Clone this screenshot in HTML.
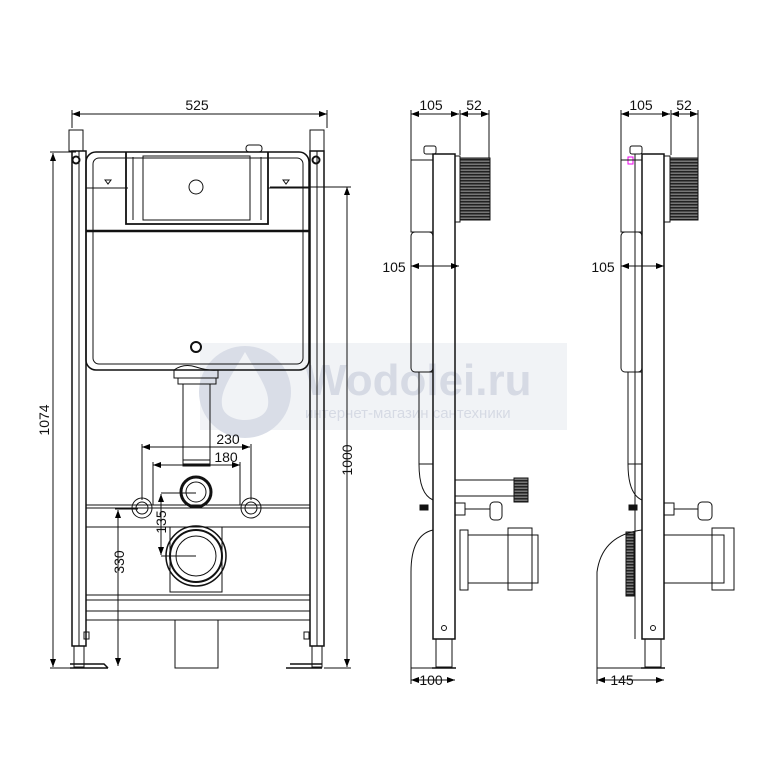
<!DOCTYPE html><html><head><style>body{margin:0;background:#fff}svg{display:block}text{font-family:"Liberation Sans",sans-serif;fill:#111}</style></head><body>
<svg width="766" height="774" viewBox="0 0 766 774" xmlns="http://www.w3.org/2000/svg">
<defs><marker id="a" markerWidth="8" markerHeight="6" refX="8" refY="3" orient="auto-start-reverse"><path d="M0,0L8,3L0,6z" fill="#000"/></marker>
<pattern id="rib" width="3" height="3" patternUnits="userSpaceOnUse"><rect width="3" height="3" fill="#777"/><rect width="3" height="1.5" fill="#222"/></pattern></defs>
<rect width="766" height="774" fill="#fff"/>
<rect x="200" y="343" width="367" height="87" fill="#f1f3f6"/>
<circle cx="245" cy="392" r="46" fill="#d9dde7"/>
<path d="M245,352 C232,375 220,390 222,405 C224,425 266,425 268,405 C270,390 258,375 245,352z" fill="#f1f3f6"/>
<text x="305" y="395" font-size="44" font-weight="bold" style="fill:#d6dae4">Wodolei.ru</text>
<text x="305" y="418" font-size="15" style="fill:#d6dae4">интернет-магазин сантехники</text>
<g fill="none" stroke="#111" stroke-width="1">
<line x1="72" y1="114" x2="327" y2="114" marker-start="url(#a)" marker-end="url(#a)"/>
<line x1="72" y1="110" x2="72" y2="128"/><line x1="327" y1="110" x2="327" y2="128"/>
<rect x="69" y="130" width="14" height="21"/><rect x="310" y="130" width="14" height="21"/>
<rect x="72" y="151" width="14" height="495" stroke-width="1.5"/><line x1="79" y1="151" x2="79" y2="646"/>
<rect x="310" y="151" width="14" height="495" stroke-width="1.5"/><line x1="317" y1="151" x2="317" y2="646"/>
<circle cx="76" cy="160" r="3.5" stroke-width="2"/><circle cx="316" cy="160" r="3.5" stroke-width="2"/>
<rect x="74" y="646" width="10" height="21"/><rect x="312" y="646" width="10" height="21"/>
<path d="M70,668H108M70,664H104L108,668M286,668H322M290,664H322" stroke-width="1.5"/>
<rect x="84" y="632" width="5" height="7"/><rect x="304" y="632" width="5" height="7"/>
<rect x="86" y="152" width="223" height="218" rx="10" stroke-width="1.5"/>
<rect x="93" y="158" width="210" height="206" rx="6"/>
<line x1="86" y1="231" x2="309" y2="231" stroke-width="2.5"/>
<line x1="86" y1="188" x2="128" y2="188"/><line x1="268" y1="188" x2="309" y2="188"/>
<path d="M126,152V224H268V152" stroke-width="1.8"/>
<rect x="143" y="156" width="107" height="64"/>
<line x1="133" y1="157" x2="133" y2="220"/><line x1="261" y1="157" x2="261" y2="220"/>
<circle cx="196" cy="187" r="7"/>
<rect x="246" y="145" width="16" height="7" rx="3"/>
<path d="M105,180l3,4l3,-4z M283,180l3,4l3,-4z"/>
<circle cx="196" cy="347" r="5" stroke-width="2"/>
<path d="M174,370 q10,-7 22,-3 q12,4 22,3 v8 h-44z"/>
<rect x="178" y="378" width="38" height="6"/>
<rect x="183" y="384" width="27" height="80"/><rect x="183" y="460" width="27" height="6"/>
<circle cx="196" cy="492" r="15" stroke-width="3"/><circle cx="196" cy="492" r="10"/>
<line x1="86" y1="505" x2="310" y2="505"/><line x1="86" y1="508" x2="310" y2="508"/><line x1="86" y1="527" x2="310" y2="527"/>
<circle cx="142" cy="508" r="10"/><circle cx="142" cy="508" r="6"/><circle cx="251" cy="508" r="10"/><circle cx="251" cy="508" r="6"/>
<rect x="170" y="527" width="52" height="65"/>
<circle cx="196" cy="556" r="30" stroke-width="1.5"/><circle cx="196" cy="556" r="26" stroke-width="2"/><circle cx="196" cy="556" r="20"/>
<line x1="86" y1="595" x2="310" y2="595"/><line x1="86" y1="600" x2="310" y2="600"/><line x1="86" y1="611" x2="310" y2="611"/><line x1="86" y1="620" x2="310" y2="620"/>
<rect x="175" y="620" width="43" height="48"/>
<line x1="53" y1="153" x2="53" y2="667" marker-start="url(#a)" marker-end="url(#a)"/><line x1="50" y1="152" x2="76" y2="152"/><line x1="50" y1="668" x2="72" y2="668"/>
<line x1="347" y1="187" x2="347" y2="667" marker-start="url(#a)" marker-end="url(#a)"/><line x1="270" y1="187" x2="351" y2="187"/><line x1="324" y1="668" x2="351" y2="668"/>
<line x1="142" y1="447" x2="250" y2="447" marker-start="url(#a)" marker-end="url(#a)"/><line x1="142" y1="444" x2="142" y2="500"/><line x1="251" y1="444" x2="251" y2="500"/>
<line x1="153" y1="465" x2="240" y2="465" marker-start="url(#a)" marker-end="url(#a)"/><line x1="153" y1="462" x2="153" y2="505"/><line x1="240" y1="462" x2="240" y2="505"/>
<line x1="161" y1="494" x2="161" y2="555" marker-start="url(#a)" marker-end="url(#a)"/><line x1="161" y1="493" x2="196" y2="493"/><line x1="161" y1="556" x2="196" y2="556"/>
<line x1="118" y1="510" x2="118" y2="666" marker-start="url(#a)" marker-end="url(#a)"/><line x1="115" y1="509" x2="138" y2="509"/>
</g>
<g font-size="14" text-anchor="middle">
<text x="197" y="110">525</text><text x="228" y="444">230</text><text x="226" y="462">180</text>
<text transform="translate(49,420) rotate(-90)">1074</text>
<text transform="translate(352,460) rotate(-90)">1000</text>
<text transform="translate(166,522) rotate(-90)">135</text>
<text transform="translate(124,562) rotate(-90)">330</text>
</g>
<g fill="none" stroke="#111" stroke-width="1">
<line x1="411" y1="114" x2="459" y2="114" marker-start="url(#a)" marker-end="url(#a)"/><line x1="460" y1="114" x2="489" y2="114" marker-start="url(#a)" marker-end="url(#a)"/>
<line x1="411" y1="110" x2="411" y2="160"/><line x1="460" y1="110" x2="460" y2="155"/><line x1="489" y1="110" x2="489" y2="158"/>
<rect x="433" y="154" width="22" height="485" stroke-width="1.5"/>
<rect x="436" y="639" width="16" height="28"/><line x1="432" y1="668" x2="456" y2="668" stroke-width="1.5"/>
<rect x="460" y="158" width="30" height="62" fill="url(#rib)"/><rect x="455" y="156" width="5" height="66"/>
<rect x="424" y="146" width="12" height="8" rx="2"/>
<rect x="411" y="160" width="22" height="72"/><rect x="411" y="232" width="22" height="140" rx="4"/>
<line x1="411" y1="266" x2="459" y2="266" marker-start="url(#a)" marker-end="url(#a)"/>
<rect x="419" y="372" width="14" height="92"/><path d="M419,464 q0,30 14,36"/>
<line x1="455" y1="480" x2="515" y2="480"/><line x1="455" y1="496" x2="520" y2="496"/><rect x="514" y="478" width="14" height="24" fill="url(#rib)"/>
<rect x="455" y="503" width="10" height="12"/><line x1="465" y1="509" x2="490" y2="509"/><rect x="490" y="502" width="12" height="18" rx="4"/>
<rect x="420" y="505" width="8" height="5" fill="#111"/>
<rect x="460" y="530" width="8" height="60"/><rect x="468" y="535" width="70" height="48"/><rect x="508" y="528" width="24" height="62"/>
<path d="M433,530 q-22,5 -22,42 v96 h22"/>
<circle cx="444" cy="628" r="2.5"/>
<line x1="411" y1="680" x2="455" y2="680" marker-start="url(#a)" marker-end="url(#a)"/><line x1="411" y1="668" x2="411" y2="684"/>
</g>
<g fill="none" stroke="#111" stroke-width="1">
<line x1="621" y1="114" x2="670" y2="114" marker-start="url(#a)" marker-end="url(#a)"/><line x1="671" y1="114" x2="698" y2="114" marker-start="url(#a)" marker-end="url(#a)"/>
<line x1="621" y1="110" x2="621" y2="160"/><line x1="671" y1="110" x2="671" y2="155"/><line x1="698" y1="110" x2="698" y2="158"/>
<rect x="642" y="154" width="22" height="485" stroke-width="1.5"/><line x1="635" y1="154" x2="635" y2="639"/>
<rect x="645" y="639" width="16" height="28"/><line x1="641" y1="668" x2="665" y2="668" stroke-width="1.5"/>
<rect x="670" y="158" width="28" height="62" fill="url(#rib)"/><rect x="664" y="156" width="6" height="66"/>
<rect x="630" y="146" width="12" height="8" rx="2"/><rect x="628" y="157" width="5" height="7" stroke="#e0e"/>
<rect x="621" y="160" width="21" height="72"/><rect x="621" y="232" width="21" height="140" rx="4"/>
<line x1="621" y1="266" x2="664" y2="266" marker-start="url(#a)" marker-end="url(#a)"/>
<rect x="628" y="372" width="14" height="92"/><path d="M628,464 q0,30 14,36"/>
<rect x="664" y="503" width="10" height="12"/><line x1="674" y1="509" x2="698" y2="509"/><rect x="698" y="502" width="14" height="18" rx="4"/>
<rect x="629" y="505" width="8" height="5" fill="#111"/>
<rect x="664" y="535" width="60" height="48"/><rect x="712" y="528" width="22" height="62"/>
<rect x="626" y="532" width="8" height="64" fill="url(#rib)"/>
<path d="M642,530 q-40,5 -45,42 v96 h45"/>
<circle cx="653" cy="628" r="2.5"/>
<line x1="597" y1="680" x2="664" y2="680" marker-start="url(#a)" marker-end="url(#a)"/><line x1="597" y1="668" x2="597" y2="684"/>
</g>
<g font-size="14" text-anchor="middle">
<text x="431" y="110">105</text><text x="474" y="110">52</text><text x="394" y="272">105</text><text x="431" y="685">100</text>
<text x="641" y="110">105</text><text x="684" y="110">52</text><text x="603" y="272">105</text><text x="622" y="685">145</text>
</g>
</svg></body></html>
